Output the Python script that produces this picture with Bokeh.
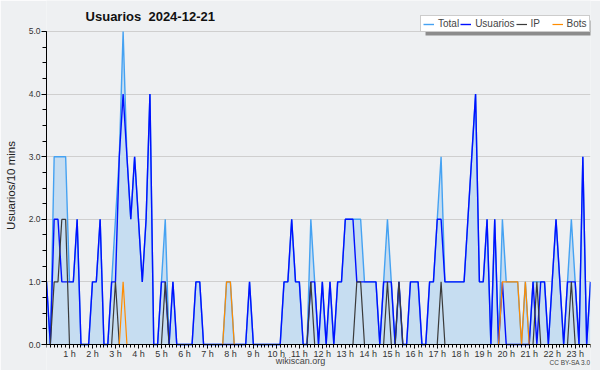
from bokeh.plotting import figure
from bokeh.models import (Range1d, FixedTicker, Legend, LegendItem, Label, PrintfTickFormatter,
                          BoxAnnotation)
from bokeh.embed import file_html
from bokeh.resources import INLINE

# 10-minute bins from 00:00 (one row per hour)
minutes = list(range(0, 1430, 10))

total = [1,0,3,3,3,3, 1,1,2,0,0,0, 1,1,2,0,0,1, 2,3,5,3,2,3,
         2,1,2,4,0,0, 1,2,0,1,0,0, 0,0,0,1,1,0, 0,0,0,0,0,1,
         1,0,0,0,0,1, 0,0,0,0,0,0, 0,0,1,1,2,1, 1,0,0,2,1,0,
         1,0,1,0,1,1, 2,2,2,2,2,1, 1,1,1,0,1,2, 1,0,1,0,0,1,
         1,1,0,0,1,1, 2,3,1,1,1,1, 1,1,2,3,4,1, 1,2,0,2,0,2,
         1,1,1,1,0,1, 0,1,1,1,1,0, 1,2,1,0,1,2, 1,0,3,0,1]
usuarios = [1,0,2,2,1,1, 1,1,2,0,0,0, 1,1,2,0,0,1, 1,3,4,3,2,3,
            2,1,2,4,0,0, 1,1,0,1,0,0, 0,0,0,1,1,0, 0,0,0,0,0,0,
            0,0,0,0,0,1, 0,0,0,0,0,0, 0,0,1,1,2,1, 1,0,0,1,1,0,
            1,0,1,0,1,1, 2,2,2,1,1,1, 1,1,1,0,1,1, 1,0,1,0,0,1,
            1,1,0,0,1,1, 2,2,1,1,1,1, 1,1,2,3,4,1, 1,2,0,2,0,1,
            0,0,0,0,0,0, 0,1,0,1,1,0, 1,2,1,0,1,1, 1,0,3,0,1]
ip = [0,0,1,1,2,2, 0,0,0,0,0,0, 0,0,0,0,0,0, 1,0,0,0,0,0,
      0,0,0,0,0,0, 0,1,0,0,0,0, 0,0,0,0,0,0, 0,0,0,0,0,0,
      0,0,0,0,0,0, 0,0,0,0,0,0, 0,0,0,0,0,0, 0,0,0,1,0,0,
      0,0,0,0,0,0, 0,0,0,1,1,0, 0,0,0,0,0,1, 0,0,1,0,0,0,
      0,0,0,0,0,0, 0,1,0,0,0,0, 0,0,0,0,0,0, 0,0,0,0,0,0,
      0,0,0,0,0,0, 0,0,1,0,0,0, 0,0,0,0,0,1, 0,0,0,0,0]
bots = [0,0,0,0,0,0, 0,0,0,0,0,0, 0,0,0,0,0,0, 0,0,1,0,0,0,
        0,0,0,0,0,0, 0,0,0,0,0,0, 0,0,0,0,0,0, 0,0,0,0,0,1,
        1,0,0,0,0,0, 0,0,0,0,0,0, 0,0,0,0,0,0, 0,0,0,0,0,0,
        0,0,0,0,0,0, 0,0,0,0,0,0, 0,0,0,0,0,0, 0,0,0,0,0,0,
        0,0,0,0,0,0, 0,0,0,0,0,0, 0,0,0,0,0,0, 0,0,0,0,0,1,
        1,1,1,1,0,1, 0,0,0,0,0,0, 0,0,0,0,0,0, 0,0,0,0,0]

hour_ticks = list(range(1, 24))
hour_labels = {h: f"{h} h" for h in hour_ticks}
y_ticks = [0, 1, 2, 3, 4, 5]

hours = [m / 60 for m in minutes]

FONT = "Liberation Sans"
BG = "#eef0f2"
# frame covers the full height so title, legend and footer stay inside it
Y_TOP = 5.4952
Y_BOT = -0.4153

p = figure(width=600, height=370, output_backend="svg", toolbar_location=None,
           x_range=Range1d(0, hours[-1]), y_range=Range1d(Y_BOT, Y_TOP),
           min_border_left=46, min_border_right=10, min_border_top=0, min_border_bottom=0,
           background_fill_color=BG, border_fill_color=BG)
p.outline_line_color = None

fill = p.varea(x=hours, y1=0, y2=total, fill_color="#c6ddf1", fill_alpha=1)
r_total = p.line(hours, total, line_color="#45a2f2", line_width=1.4)
r_users = p.line(hours, usuarios, line_color="#0010ff", line_width=1.4)
r_ip = p.line(hours, ip, line_color="#3a3a3a", line_width=1.2)
r_bots = p.line(hours, bots, line_color="#ff8c00", line_width=1.2)

# axes
xa = p.xaxis[0]
xa.fixed_location = 0
xa.ticker = FixedTicker(ticks=hour_ticks, minor_ticks=hours)
xa.major_label_overrides = hour_labels
xa.major_label_text_font = FONT
xa.major_label_text_font_size = "9px"
xa.major_label_text_color = "#333333"
xa.major_label_standoff = 0
xa.major_tick_out = 4
xa.major_tick_in = 0
xa.minor_tick_out = 3
xa.minor_tick_in = 0
xa.axis_line_color = "black"

ya = p.yaxis[0]
ya.bounds = (0, 5)
ya.ticker = FixedTicker(ticks=y_ticks, minor_ticks=[k * 0.25 for k in range(21)])
ya.formatter = PrintfTickFormatter(format="%.1f")
ya.major_label_text_font = FONT
ya.major_label_text_font_size = "8.5px"
ya.major_label_text_color = "#333333"
ya.major_label_standoff = 1
ya.major_tick_out = 5
ya.major_tick_in = 0
ya.minor_tick_out = 4
ya.minor_tick_in = 0
ya.axis_label = "Usuarios/10 mins"
ya.axis_label_text_font = FONT
ya.axis_label_text_font_size = "11.5px"
ya.axis_label_text_font_style = "normal"
ya.axis_label_text_color = "#222222"
ya.axis_label_standoff = 9

p.xgrid.visible = False
p.ygrid.ticker = FixedTicker(ticks=y_ticks)
p.ygrid.grid_line_color = "#cfcfcf"

# title
p.add_layout(Label(x=1.70, y=5.24, text="Usuarios\u00a0 2024-12-21", text_align="left",
                   text_baseline="middle", text_font=FONT, text_font_size="13px",
                   text_font_style="bold", text_color="#111111"))

# legend shadow, then legend
p.add_layout(BoxAnnotation(left=16.49, right=23.81, top=5.176, bottom=4.936,
                           fill_color="#8c8c8c", fill_alpha=1, line_color=None))

legend = Legend(items=[LegendItem(label="Total", renderers=[r_total]),
                       LegendItem(label="Usuarios", renderers=[r_users]),
                       LegendItem(label="IP", renderers=[r_ip]),
                       LegendItem(label="Bots", renderers=[r_bots])],
                orientation="horizontal", location=(374, 338))
legend.label_text_font = FONT
legend.label_text_font_size = "10px"
legend.label_height = 10
legend.glyph_height = 10
legend.glyph_width = 11
legend.label_standoff = 4
legend.spacing = 1
legend.padding = 2
legend.margin = 0
legend.border_line_color = "#9a9a9a"
legend.border_line_width = 1.5
legend.background_fill_color = "white"
legend.background_fill_alpha = 1
p.add_layout(legend, "center")

# footer
p.add_layout(Label(x=11.05, y=-0.27, text="wikiscan.org", text_align="center",
                   text_baseline="middle", text_font=FONT, text_font_size="9px",
                   text_color="#444444"))
p.add_layout(Label(x=hours[-1], y=-0.29, text="CC BY-SA 3.0", text_align="right",
                   text_baseline="middle", text_font=FONT, text_font_size="6.5px",
                   text_color="#444444"))

open("out.html", "w").write(file_html(p, INLINE))
